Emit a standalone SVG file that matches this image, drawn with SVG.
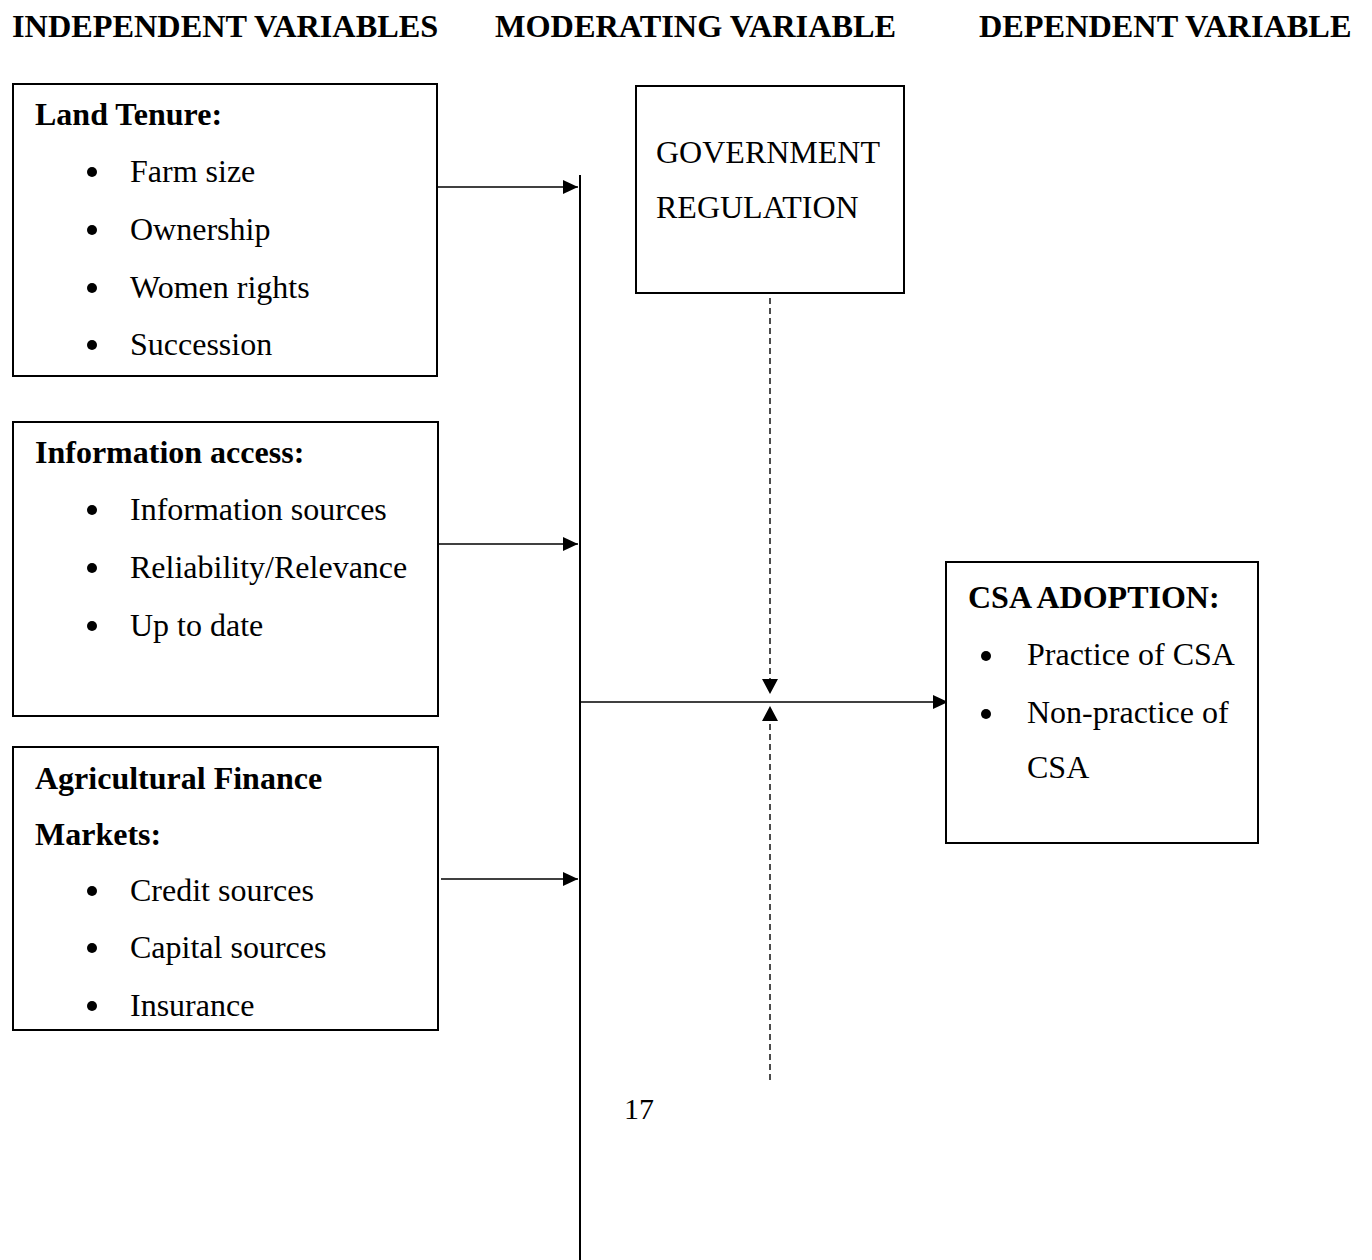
<svg xmlns="http://www.w3.org/2000/svg" width="1372" height="1260" viewBox="0 0 1372 1260">
<style>
text{font-family:"Liberation Serif","Times New Roman",serif;fill:#000}
.h{font-size:32.3px;font-weight:bold}
.t{font-size:32px;font-weight:bold}
.b{font-size:32px}
.box{fill:#fff;stroke:#000;stroke-width:2}
.ln{stroke:#000;stroke-width:1.4;fill:none}
.dash{stroke:#000;stroke-width:1.4;stroke-dasharray:6 4;fill:none}
.bul{fill:#000}
</style>
<defs>
<marker id="ah" viewBox="0 0 15 14" refX="15" refY="7" markerWidth="15" markerHeight="14" markerUnits="userSpaceOnUse" orient="auto">
<path d="M0,0 L15,7 L0,14 Z" fill="#000"/>
</marker>
</defs>
<rect width="1372" height="1260" fill="#fff"/>
<g id="headings">
<text class="h" x="12" y="37">INDEPENDENT VARIABLES</text>
<text class="h" x="495" y="37">MODERATING VARIABLE</text>
<text class="h" x="979" y="37">DEPENDENT VARIABLE</text>
</g>
<g id="connectors">
<line x1="580" y1="175" x2="580" y2="1260" stroke="#000" stroke-width="2"/>
<line class="ln" x1="437" y1="187" x2="578" y2="187" marker-end="url(#ah)"/>
<line class="ln" x1="439" y1="544" x2="578" y2="544" marker-end="url(#ah)"/>
<line class="ln" x1="441" y1="879" x2="578" y2="879" marker-end="url(#ah)"/>
<line class="ln" x1="580" y1="702" x2="948" y2="702" marker-end="url(#ah)"/>
<line class="dash" x1="770" y1="298" x2="770" y2="682"/>
<path d="M762,679 L778,679 L770,694 Z" fill="#000"/>
<line class="dash" x1="770" y1="1080" x2="770" y2="718"/>
<path d="M762,721 L778,721 L770,706 Z" fill="#000"/>
</g>
<g id="land-tenure">
<rect class="box" x="13" y="84" width="424" height="292"/>
<text class="t" x="35" y="125">Land Tenure:</text>
<circle class="bul" cx="92" cy="172" r="5"/><text class="b" x="130" y="182">Farm size</text>
<circle class="bul" cx="92" cy="230" r="5"/><text class="b" x="130" y="240">Ownership</text>
<circle class="bul" cx="92" cy="288" r="5"/><text class="b" x="130" y="298">Women rights</text>
<circle class="bul" cx="92" cy="345" r="5"/><text class="b" x="130" y="355">Succession</text>
</g>
<g id="information-access">
<rect class="box" x="13" y="422" width="425" height="294"/>
<text class="t" x="35" y="463">Information access:</text>
<circle class="bul" cx="92" cy="510" r="5"/><text class="b" x="130" y="520">Information sources</text>
<circle class="bul" cx="92" cy="568" r="5"/><text class="b" x="130" y="578">Reliability/Relevance</text>
<circle class="bul" cx="92" cy="626" r="5"/><text class="b" x="130" y="636">Up to date</text>
</g>
<g id="agricultural-finance">
<rect class="box" x="13" y="747" width="425" height="283"/>
<text class="t" x="35" y="789">Agricultural Finance</text>
<text class="t" x="35" y="845">Markets:</text>
<circle class="bul" cx="92" cy="891" r="5"/><text class="b" x="130" y="901">Credit sources</text>
<circle class="bul" cx="92" cy="948" r="5"/><text class="b" x="130" y="958">Capital sources</text>
<circle class="bul" cx="92" cy="1006" r="5"/><text class="b" x="130" y="1016">Insurance</text>
</g>
<g id="government-regulation">
<rect class="box" x="636" y="86" width="268" height="207"/>
<text class="b" x="656" y="163">GOVERNMENT</text>
<text class="b" x="656" y="218">REGULATION</text>
</g>
<g id="csa-adoption">
<rect class="box" x="946" y="562" width="312" height="281"/>
<text class="t" x="968" y="608">CSA ADOPTION:</text>
<circle class="bul" cx="986" cy="656" r="5"/><text class="b" x="1027" y="665">Practice of CSA</text>
<circle class="bul" cx="986" cy="714" r="5"/><text class="b" x="1027" y="723">Non-practice of</text>
<text class="b" x="1027" y="778">CSA</text>
</g>
<g id="page-number">
<text class="b" x="624" y="1119" style="font-size:30px">17</text>
</g>
</svg>
